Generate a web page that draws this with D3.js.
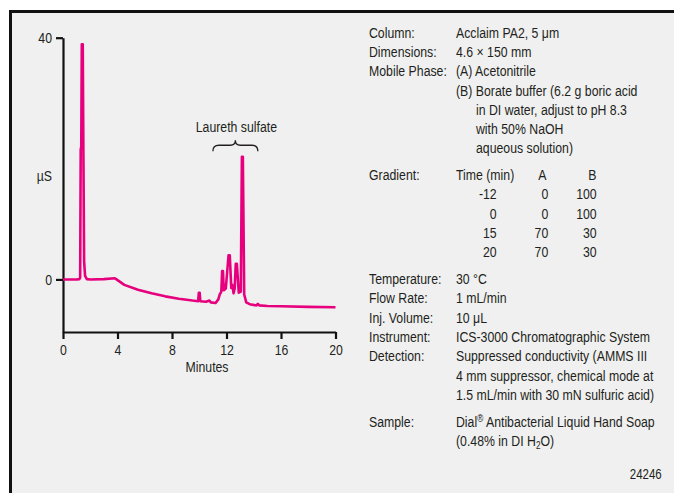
<!DOCTYPE html>
<html>
<head>
<meta charset="utf-8">
<script src="https://cdn.jsdelivr.net/npm/d3@7"></script>
<style>
  body { margin: 0; background: #fff; }
  svg text { font-family: "Liberation Sans", Arial, sans-serif; fill: #231f20; }
</style>
</head>
<body>
<script>
// Chromatogram trace (minutes, µS)
const times  = [0, 1.0, 1.2, 1.26, 1.30, 1.34, 1.38, 1.45, 1.50, 1.55, 1.62, 1.75, 2.0, 3.0, 3.8, 3.9,
                4.5, 5.5, 6.5, 7.5, 8.5, 9.5, 9.92, 9.97, 10.03, 10.08, 10.5, 10.75, 10.85, 11.2,
                11.4, 11.5, 11.62, 11.68, 11.74, 11.8, 11.95, 12.15, 12.24, 12.35, 12.42, 12.52,
                12.6, 12.68, 12.76, 12.9, 13.05, 13.13, 13.2, 13.3, 13.45, 13.7, 14.2, 14.3, 14.4,
                15, 16, 18, 20];
const signal = [0, 0, 0.05, 0.3, 21.5, 22, 38.9, 38.9, 20, 3, 0.6, 0.05, 0, 0.05, 0.2, 0.05,
                -0.9, -1.7, -2.3, -2.8, -3.2, -3.5, -3.6, -2.2, -2.2, -3.6, -3.7, -3.5, -3.8, -3.9,
                -3.3, -2.5, -2.0, 1.4, 1.4, -1.8, -1.5, 4.0, 4.0, -1.4, -0.9, -2.3,
                -1.5, 2.6, 2.6, -2.2, -2.0, 20.3, 20.3, -2.5, -3.8, -4.1, -4.3, -4.05, -4.3,
                -4.4, -4.45, -4.55, -4.6];
const xTicks = [0, 4, 8, 12, 16, 20];
const yTicks = [0, 40];

// Gradient table
const gradTime = [-12, 0, 15, 20];
const gradA = [0, 0, 70, 70];
const gradB = [100, 100, 30, 30];

// Method text: [label, value, indented]
const blockTop = [
  ["Column:", "Acclaim PA2, 5 μm", false],
  ["Dimensions:", "4.6 × 150 mm", false],
  ["Mobile Phase:", "(A) Acetonitrile", false],
  ["", "(B) Borate buffer (6.2 g boric acid", false],
  ["", "in DI water, adjust to pH 8.3", true],
  ["", "with 50% NaOH", true],
  ["", "aqueous solution)", true]
];
const blockMid = [
  ["Temperature:", "30 °C", false],
  ["Flow Rate:", "1 mL/min", false],
  ["Inj. Volume:", "10 μL", false],
  ["Instrument:", "ICS-3000 Chromatographic System", false],
  ["Detection:", "Suppressed conductivity (AMMS III", false],
  ["", "4 mm suppressor, chemical mode at", false],
  ["", "1.5 mL/min with 30 mN sulfuric acid)", false]
];

// condensed look: squeeze a normal sans horizontally
const squeeze = 0.82;

const svg = d3.select("body")
  .append("svg")
  .attr("width", 674)
  .attr("height", 493);

// text helper, anchored at (x, y) baseline
function addText(x, y, str, anchor, size) {
  return svg.append("text")
    .attr("transform", `translate(${x},${y}) scale(${squeeze},1)`)
    .attr("text-anchor", anchor || "start")
    .style("font-size", (size || 15) + "px")
    .text(str);
}

// Frame
svg.append("rect")
  .attr("x", 10.5).attr("y", 11.5)
  .attr("width", 720).attr("height", 520)
  .attr("fill", "#f0f0f0")
  .attr("stroke", "#111")
  .attr("stroke-width", 3);

// Scales
const x = d3.scaleLinear().domain([0, 20]).range([63, 335.5]);
const y = d3.scaleLinear().domain([-8.7, 40]).range([332, 37.7]);

// Axes
const xAxis = svg.append("g")
  .attr("transform", `translate(0, ${y.range()[0]})`)
  .call(d3.axisBottom(x).tickValues(xTicks).tickSize(7).tickSizeOuter(0).tickPadding(5));

const yAxis = svg.append("g")
  .attr("transform", `translate(${x.range()[0]}, 0)`)
  .call(d3.axisLeft(y).tickValues(yTicks).tickSize(7).tickSizeOuter(0).tickPadding(0));

[xAxis, yAxis].forEach((g) => {
  g.attr("font-size", null).attr("font-family", null);
  g.selectAll("path, line").attr("stroke", "#111").attr("stroke-width", 2.2);
  g.selectAll("text").style("font-size", "15px");
});
xAxis.selectAll("text").attr("transform", `scale(${squeeze},1)`);
yAxis.selectAll("text").attr("x", 0).attr("transform", `translate(-11,0) scale(${squeeze},1)`);

addText(52, 181, "µS", "end");
addText(207, 372, "Minutes", "middle");

// Trace
const line = d3.line()
  .x((d, i) => x(times[i]))
  .y((d) => y(d));

svg.append("path")
  .datum(signal)
  .attr("d", line)
  .attr("fill", "none")
  .attr("stroke", "#e6007e")
  .attr("stroke-width", 2.6)
  .attr("stroke-linejoin", "round");

// Laureth sulfate brace
const bx0 = x(11.0), bx1 = x(14.3), bxm = x(12.65);
const by = y(22.2), byTip = by - 5, byEnd = by + 6;
svg.append("path")
  .attr("d", `M${bx0},${byEnd} Q${bx0},${by} ${bx0 + 6},${by} L${bxm - 5},${by} Q${bxm},${by} ${bxm},${byTip}` +
             ` Q${bxm},${by} ${bxm + 5},${by} L${bx1 - 6},${by} Q${bx1},${by} ${bx1},${byEnd}`)
  .attr("fill", "none")
  .attr("stroke", "#231f20")
  .attr("stroke-width", 1.3);

addText(bxm + 1, 132, "Laureth sulfate", "middle");

// Method text
const labelX = 369, valueX = 456, indentX = 476;
const lineH = 19.3, gap = 26.7, base = 5.3;
let cy = 32.3;

function addRow(row) {
  addText(labelX, cy + base, row[0]);
  addText(row[2] ? indentX : valueX, cy + base, row[1]);
}

blockTop.forEach((r, i) => { if (i > 0) cy += lineH; addRow(r); });

// Gradient table
cy += gap;
addText(labelX, cy + base, "Gradient:");
addText(valueX, cy + base, "Time (min)");
addText(542.3, cy + base, "A", "middle");
addText(592.3, cy + base, "B", "middle");
gradTime.forEach((t, i) => {
  cy += lineH;
  addText(496.7, cy + base, t, "end");
  addText(548.3, cy + base, gradA[i], "end");
  addText(596.7, cy + base, gradB[i], "end");
});

cy += gap;
blockMid.forEach((r, i) => { if (i > 0) cy += lineH; addRow(r); });

// Sample
cy += gap;
addText(labelX, cy + base, "Sample:");
const dial = addText(valueX, cy + base, "");
dial.append("tspan").text("Dial");
dial.append("tspan").attr("dy", -5).style("font-size", "10px").text("®");
dial.append("tspan").attr("dy", 5).text(" Antibacterial Liquid Hand Soap");

cy += lineH;
const soln = addText(valueX, cy + base, "");
soln.append("tspan").text("(0.48% in DI H");
soln.append("tspan").attr("dy", 3).style("font-size", "10px").text("2");
soln.append("tspan").attr("dy", -3).text("O)");

addText(661.7, 478.5, "24246", "end", 14);
</script>
</body>
</html>
